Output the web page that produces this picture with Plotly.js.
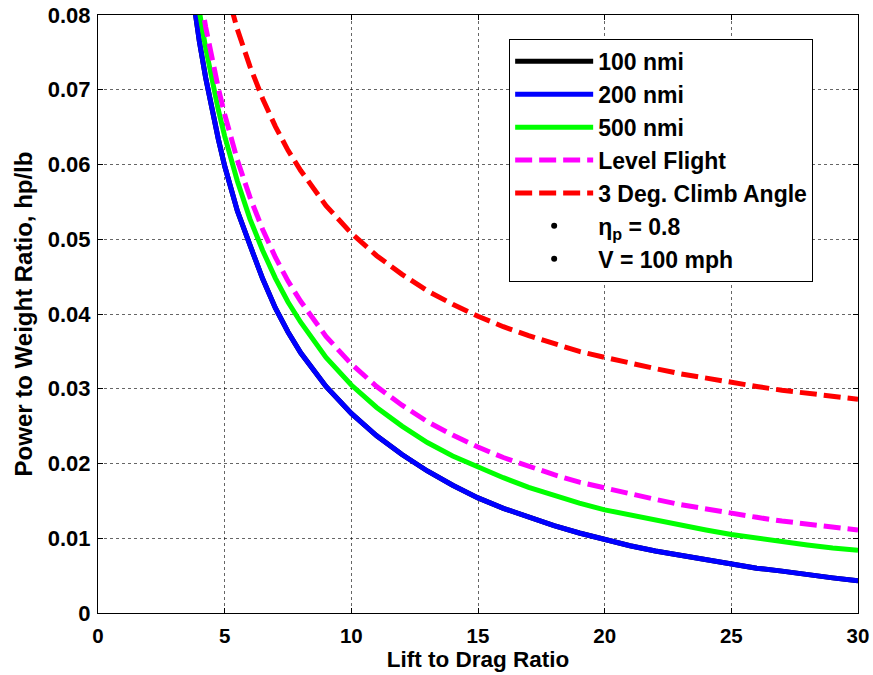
<!DOCTYPE html>
<html>
<head>
<meta charset="utf-8">
<script src="https://cdn.plot.ly/plotly-3.0.1.min.js"></script>
<style>html,body{margin:0;padding:0;background:#fff;}#chart{width:873px;height:675px;}</style>
</head>
<body>
<div id="chart"></div>
<script>
// Lift to drag ratio (x)
const liftToDrag = [3.5, 3.75, 4, 4.25, 4.5, 4.75, 5, 5.5, 6, 6.5, 7, 7.5, 8, 9, 10, 11, 12, 13, 14, 15,
  16, 17, 18, 19, 20, 21, 22, 23, 24, 25, 26, 27, 28, 29, 30];
// Power to weight ratio, hp/lb
const range100 = [0.0884, 0.0820, 0.0765, 0.0716, 0.0672, 0.0634, 0.0598, 0.0538, 0.0492, 0.0447, 0.0408, 0.0376, 0.0348,
  0.0303, 0.0267, 0.0237, 0.0212, 0.0190, 0.0171, 0.0154, 0.0140, 0.0128, 0.0117, 0.0107, 0.0098, 0.0090, 0.0083,
  0.0077, 0.0071, 0.0065, 0.0060, 0.0056, 0.0051, 0.0047, 0.0043];
const range200 = [0.0884, 0.0820, 0.0765, 0.0716, 0.0672, 0.0634, 0.0598, 0.0538, 0.0492, 0.0447, 0.0408, 0.0376, 0.0348,
  0.0303, 0.0267, 0.0237, 0.0212, 0.0190, 0.0171, 0.0154, 0.0140, 0.0128, 0.0117, 0.0107, 0.0098, 0.0090, 0.0083,
  0.0077, 0.0071, 0.0065, 0.0060, 0.0056, 0.0051, 0.0047, 0.0043];
const range500 = [0.0924, 0.0860, 0.0805, 0.0756, 0.0712, 0.0673, 0.0638, 0.0578, 0.0527, 0.0485, 0.0448, 0.0416, 0.0389,
  0.0342, 0.0305, 0.0275, 0.0250, 0.0228, 0.0210, 0.0195, 0.0181, 0.0168, 0.0157, 0.0147, 0.0138, 0.0131, 0.0124,
  0.0117, 0.0111, 0.0105, 0.0100, 0.0096, 0.0091, 0.0087, 0.0084];
const levelFlight = [0.0952, 0.0889, 0.0833, 0.0784, 0.0741, 0.0702, 0.0667, 0.0606, 0.0556, 0.0513, 0.0476, 0.0444, 0.0417,
  0.0370, 0.0333, 0.0303, 0.0278, 0.0256, 0.0238, 0.0222, 0.0208, 0.0196, 0.0185, 0.0175, 0.0167, 0.0159, 0.0152,
  0.0145, 0.0139, 0.0133, 0.0128, 0.0123, 0.0119, 0.0115, 0.0111];
const climb3deg = [0.1127, 0.1064, 0.1008, 0.0959, 0.0916, 0.0877, 0.0842, 0.0781, 0.0731, 0.0688, 0.0651, 0.0619, 0.0592,
  0.0545, 0.0508, 0.0478, 0.0453, 0.0431, 0.0413, 0.0397, 0.0383, 0.0371, 0.0360, 0.0350, 0.0342, 0.0334, 0.0327,
  0.0320, 0.0314, 0.0308, 0.0303, 0.0298, 0.0294, 0.0290, 0.0286];

const xTicks = [0, 5, 10, 15, 20, 25, 30];
const yTicks = [0, 0.01, 0.02, 0.03, 0.04, 0.05, 0.06, 0.07, 0.08];
const yTickLabels = ['0', '0.01', '0.02', '0.03', '0.04', '0.05', '0.06', '0.07', '0.08'];

const FONT = 'Liberation Sans, Arial, Helvetica, sans-serif';
const LW = 5;
const DASH = '17px,7px';

const traces = [
  {x: liftToDrag, y: range100, name: '100 nmi', mode: 'lines', line: {color: '#000000', width: LW}, legendgroup: 'a'},
  {x: liftToDrag, y: range200, name: '200 nmi', mode: 'lines', line: {color: '#0000ff', width: LW}, legendgroup: 'b'},
  {x: liftToDrag, y: range500, name: '500 nmi', mode: 'lines', line: {color: '#00ff00', width: LW}, legendgroup: 'c'},
  {x: liftToDrag, y: levelFlight, name: 'Level Flight', mode: 'lines', line: {color: '#ff00ff', width: LW, dash: DASH}, legendgroup: 'd'},
  {x: liftToDrag, y: climb3deg, name: '3 Deg. Climb Angle', mode: 'lines', line: {color: '#ff0000', width: LW, dash: DASH}, legendgroup: 'e'},
  {x: [null], y: [null], name: 'η<sub>p</sub> = 0.8', mode: 'markers', marker: {color: '#000', size: 6}, legendgroup: 'f'},
  {x: [null], y: [null], name: 'V = 100 mph', mode: 'markers', marker: {color: '#000', size: 6}, legendgroup: 'g'}
];

const axisCommon = {
  showline: true, linecolor: '#000', linewidth: 1, mirror: 'allticks',
  ticks: 'inside', ticklen: 5, tickcolor: '#000', tickwidth: 1,
  showgrid: true, gridcolor: 'rgba(0,0,0,0.6)', gridwidth: 1, griddash: 'dot',
  zeroline: false
};

const layout = {
  width: 873, height: 675,
  margin: {l: 98, r: 15, t: 15, b: 62},
  paper_bgcolor: '#fff', plot_bgcolor: '#fff',
  showlegend: true,
  xaxis: Object.assign({}, axisCommon, {
    range: [0, 30], tickvals: xTicks, ticklabelstandoff: 4,
    tickfont: {family: FONT, size: 20.5, color: '#000', weight: 'bold'},
    title: {text: 'Lift to Drag Ratio', font: {family: FONT, size: 22.5, color: '#000', weight: 'bold'}, standoff: 2}
  }),
  yaxis: Object.assign({}, axisCommon, {
    range: [0, 0.08], tickvals: yTicks, ticktext: yTickLabels, ticklabelstandoff: 2,
    tickfont: {family: FONT, size: 22, color: '#000', weight: 'bold'},
    title: {text: 'Power to Weight Ratio, hp/lb', font: {family: FONT, size: 24, color: '#000', weight: 'bold'}, standoff: 8}
  }),
  legend: {
    x: 0.541, y: 0.96, xanchor: 'left', yanchor: 'top',
    bgcolor: '#fff', bordercolor: '#000', borderwidth: 1,
    font: {family: FONT, size: 23, color: '#000', weight: 'bold'},
    itemwidth: 78, traceorder: 'grouped', tracegroupgap: 0
  }
};

Plotly.newPlot('chart', traces, layout, {displayModeBar: false, staticPlot: true});
</script>
</body>
</html>
